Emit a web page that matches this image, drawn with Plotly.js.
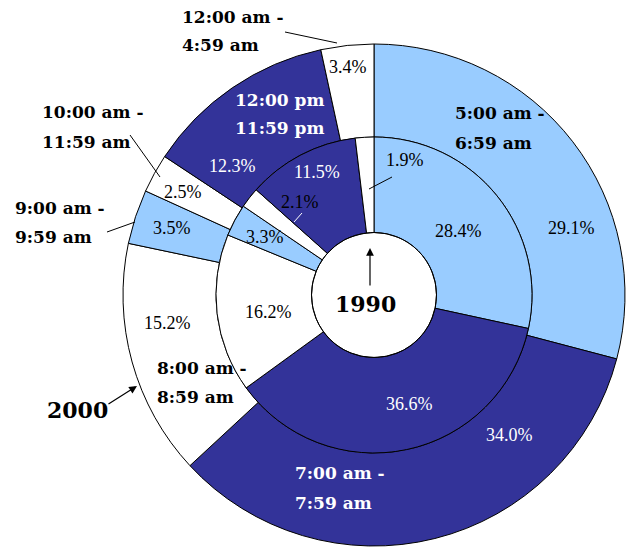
<!DOCTYPE html>
<html>
<head>
<meta charset="utf-8">
<script src="https://cdn.plot.ly/plotly-3.0.1.min.js"></script>
<style>html,body{margin:0;padding:0;background:#fff;overflow:hidden}#chart{width:626px;height:548px}</style>
</head>
<body>
<div id="chart"></div>
<script>
// ---- data ----
var categories = ["5:00 am - 6:59 am", "7:00 am - 7:59 am", "8:00 am - 8:59 am", "9:00 am - 9:59 am",
                  "10:00 am - 11:59 am", "12:00 pm - 11:59 pm", "12:00 am - 4:59 am"];
var labelLines = [["5:00 am -", "6:59 am"], ["7:00 am -", "7:59 am"], ["8:00 am -", "8:59 am"], ["9:00 am -", "9:59 am"],
                  ["10:00 am -", "11:59 am"], ["12:00 pm", "11:59 pm"], ["12:00 am -", "4:59 am"]];
var values2000 = [29.1, 34.0, 15.2, 3.5, 2.5, 12.3, 3.4];
var values1990 = [28.4, 36.6, 16.2, 3.3, 2.1, 11.5, 1.9];
var ringNames = ["2000", "1990"];

// ---- style ----
var LIGHT = "#99CCFF", DARK = "#333399";
var sliceColors = [LIGHT, DARK, "#FFFFFF", LIGHT, "#FFFFFF", DARK, "#FFFFFF"];
var W = 626, H = 548;
var CX = 374, CY = 295, R_OUT = 251, R_IN = 158, R_HOLE = 62.5;
function X(px){ return px / W; }
function Y(py){ return 1 - py / H; }

// label placements (pixel centres) -- layout only
var pos2000 = [[571,228],[509,435],[167,323],[172,228],[183,192],[232,166],[348,67]];
var pos1990 = [[458,231],[409,404],[268,312],[265,237],[300,202],[317,172],[405,160]];
var catPos  = [[453,113,143],[293,473,503],[155,368,397],[13,208,237],[40,112,142],[233,100,128],[180,17,45]];
var catColor = ["#000","#fff","#000","#000","#000","#fff","#000"];

var traces = [
  {type:"pie", name: ringNames[0], labels: categories, values: values2000, sort:false, direction:"clockwise", rotation:0,
   hole: R_IN / R_OUT, textinfo:"none", hoverinfo:"label+percent", showlegend:false,
   marker:{colors: sliceColors, line:{color:"#000", width:1}},
   domain:{x:[X(CX-R_OUT), X(CX+R_OUT)], y:[Y(CY+R_OUT), Y(CY-R_OUT)]}},
  {type:"pie", name: ringNames[1], labels: categories, values: values1990, sort:false, direction:"clockwise", rotation:0,
   hole: R_HOLE / R_IN, textinfo:"none", hoverinfo:"label+percent", showlegend:false,
   marker:{colors: sliceColors, line:{color:"#000", width:1}},
   domain:{x:[X(CX-R_IN), X(CX+R_IN)], y:[Y(CY+R_IN), Y(CY-R_IN)]}}
];

var annotations = [];
var pctFont = "Liberation Serif";
function pctColor(i){ return sliceColors[i] === DARK ? "#fff" : "#000"; }
values2000.forEach(function(v,i){
  annotations.push({xref:"paper", yref:"paper", x:X(pos2000[i][0]), y:Y(pos2000[i][1]), text: v.toFixed(1)+"%",
    showarrow:false, xanchor:"center", yanchor:"middle", font:{family:pctFont, size:18, color:pctColor(i)}});
});
values1990.forEach(function(v,i){
  annotations.push({xref:"paper", yref:"paper", x:X(pos1990[i][0]), y:Y(pos1990[i][1]), text: v.toFixed(1)+"%",
    showarrow:false, xanchor:"center", yanchor:"middle", font:{family:pctFont, size:18, color:pctColor(i)}});
});
var boldFont = "DejaVu Serif";
labelLines.forEach(function(lines,i){
  lines.forEach(function(t,j){
    annotations.push({xref:"paper", yref:"paper", x:X(catPos[i][0]), y:Y(catPos[i][1+j]), text:"<b>"+t+"</b>",
      showarrow:false, xanchor:"left", yanchor:"middle", font:{family:boldFont, size:17, color:catColor[i]}});
  });
});
// ring names
annotations.push({xref:"paper", yref:"paper", x:X(77), y:Y(410), text:"<b>"+ringNames[0]+"</b>", showarrow:false,
  xanchor:"center", yanchor:"middle", font:{family:boldFont, size:22, color:"#000"}});
annotations.push({xref:"paper", yref:"paper", x:X(365), y:Y(304), text:"<b>"+ringNames[1]+"</b>", showarrow:false,
  xanchor:"center", yanchor:"middle", font:{family:boldFont, size:22, color:"#000"}});
// arrows (head at x,y ; tail offset in px)
function arrow(hx,hy,tx,ty,head){
  annotations.push({xref:"paper", yref:"paper", x:X(hx), y:Y(hy), ax:tx-hx, ay:ty-hy, text:"", showarrow:true,
    arrowhead: head ? 2 : 0, arrowsize:1.3, arrowwidth:1.2, arrowcolor:"#000", standoff:0, startstandoff:0});
}
arrow(137,386,107,405,true);
arrow(370,248,370,287,true);

// leader lines
var leaders = [[285,32,337,43],[130,135,160,177],[107,232,135,222],[392,177,369,189],[302,213,294,222]];
var shapes = leaders.map(function(l){
  return {type:"line", xref:"paper", yref:"paper", x0:X(l[0]), y0:Y(l[1]), x1:X(l[2]), y1:Y(l[3]),
    line:{color: l[0]===302 ? "#fff" : "#000", width:1}};
});
// hole outline
shapes.push({type:"circle", xref:"paper", yref:"paper", x0:X(CX-R_HOLE), x1:X(CX+R_HOLE), y0:Y(CY+R_HOLE), y1:Y(CY-R_HOLE),
  line:{color:"#000", width:1}, fillcolor:"rgba(0,0,0,0)"});

var layout = {width:W, height:H, margin:{l:0,r:0,t:0,b:0}, paper_bgcolor:"#fff", plot_bgcolor:"#fff",
  showlegend:false, annotations:annotations, shapes:shapes};
Plotly.newPlot("chart", traces, layout, {displayModeBar:false, staticPlot:true});
</script>
</body>
</html>
